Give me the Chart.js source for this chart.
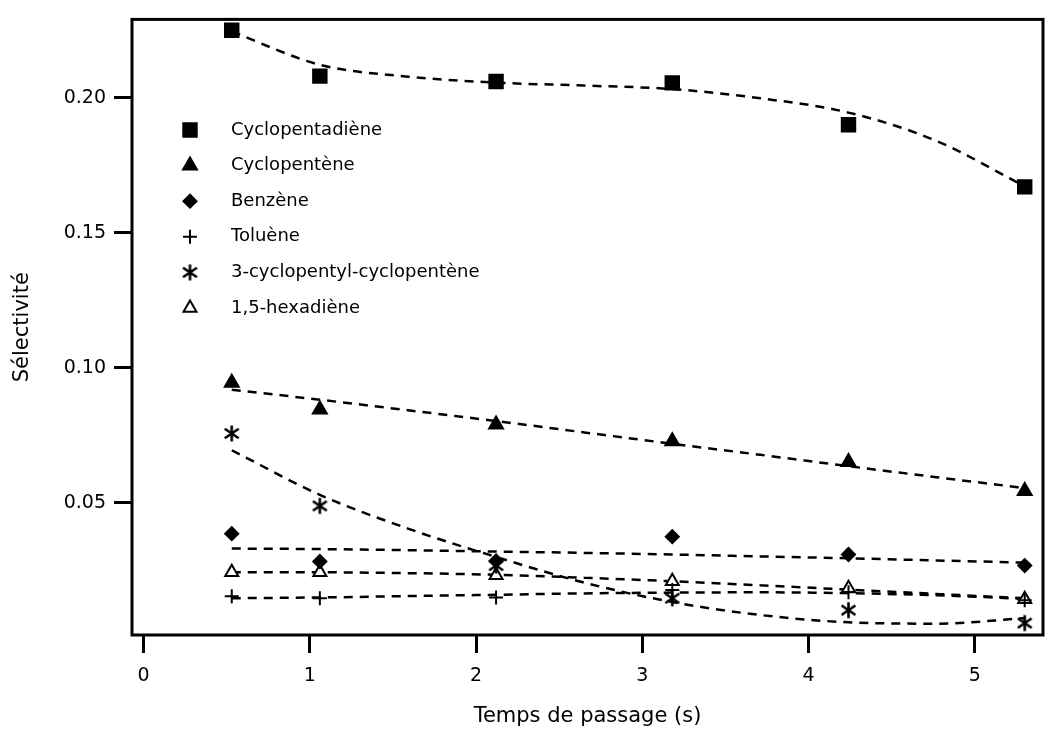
<!DOCTYPE html>
<html lang="fr">
<head>
<meta charset="utf-8">
<title>Sélectivité en fonction du temps de passage</title>
<script src="https://cdn.jsdelivr.net/npm/chart.js@4.4.1/dist/chart.umd.min.js"></script>
<style>
  html, body { margin: 0; padding: 0; background: #fff; }
  #graphe { display: block; }
</style>
</head>
<body>
<canvas id="graphe" width="1058" height="729"></canvas>
<script>
// temps de passage des mesures (s)
const tempsPassage = [0.53, 1.06, 2.12, 3.18, 4.24, 5.30];

// sélectivités mesurées
const cyclopentadiene = [0.225, 0.208, 0.206, 0.2055, 0.190, 0.167];
const cyclopentene = [0.0945, 0.0846, 0.079, 0.0728, 0.0651, 0.0544];
const benzene = [0.0386, 0.0283, 0.0285, 0.0375, 0.0309, 0.0268];
const toluene = [0.0154, 0.0147, 0.0150, 0.0178, 0.0169, 0.0140];
const cyclopentylCyclopentene = [0.0757, 0.0489, 0.0268, 0.0147, 0.0103, 0.0055];
const hexadiene = [0.0243, 0.0243, 0.0232, 0.0210, 0.0184, 0.0143];

// courbes d'ajustement (tirets)
const ajustX = [0.53, 1.06, 1.59, 2.12, 2.65, 3.18, 3.71, 4.24, 4.77, 5.30];
const ajustCyclopentadiene = [0.2245, 0.2122, 0.2078, 0.2056, 0.2045, 0.2032, 0.1998, 0.1945, 0.1840, 0.1672];
const ajustCyclopentene = [0.0919, 0.0882, 0.0843, 0.0803, 0.0761, 0.0719, 0.0678, 0.0636, 0.0595, 0.0555];
const ajustBenzene = [0.0331, 0.0329, 0.0325, 0.0320, 0.0315, 0.0309, 0.0302, 0.0295, 0.0287, 0.0279];
const ajustToluene = [0.0147, 0.0150, 0.0155, 0.0160, 0.0165, 0.0168, 0.0169, 0.0166, 0.0158, 0.0145];
const ajustCyclopentylCyclopentene = [0.0695, 0.0530, 0.0405, 0.0300, 0.0205, 0.0133, 0.0085, 0.0058, 0.0053, 0.0073];
const ajustHexadiene = [0.0243, 0.0243, 0.0240, 0.0234, 0.0223, 0.0210, 0.0195, 0.0179, 0.0163, 0.0147];

const xTicks = [0, 1, 2, 3, 4, 5];
const yTicks = [0.05, 0.10, 0.15, 0.20];

const police = "'DejaVu Sans', sans-serif";

// astérisque à six branches
function asterisque(taille) {
  const c = document.createElement('canvas');
  c.width = taille; c.height = taille;
  const g = c.getContext('2d');
  const m = taille / 2, r = taille / 2 - 1.5;
  g.strokeStyle = '#000';
  g.lineWidth = 2.6;
  g.beginPath();
  g.moveTo(m, m - r); g.lineTo(m, m + r);
  const dx = r * 0.87, dy = r * 0.6;
  g.moveTo(m - dx, m - dy); g.lineTo(m + dx, m + dy);
  g.moveTo(m - dx, m + dy); g.lineTo(m + dx, m - dy);
  g.stroke();
  return c;
}
const etoile = asterisque(19);

function points(ys) {
  return tempsPassage.map((x, i) => ({ x: x, y: ys[i] }));
}
function courbe(ys) {
  return ajustX.map((x, i) => ({ x: x, y: ys[i] }));
}

function serie(label, ys, style, rayon, remplissage) {
  return {
    label: label,
    data: points(ys),
    showLine: false,
    pointStyle: style,
    pointRadius: rayon,
    pointHoverRadius: rayon,
    pointBackgroundColor: remplissage,
    pointBorderColor: '#000',
    pointBorderWidth: 2,
    order: 1
  };
}

function ajustement(ys) {
  return {
    label: '',
    data: courbe(ys),
    showLine: true,
    borderColor: '#000',
    borderWidth: 2.5,
    borderDash: [9, 7],
    pointRadius: 0,
    cubicInterpolationMode: 'monotone',
    fill: false,
    order: 2
  };
}

const series = [
  serie('Cyclopentadiène', cyclopentadiene, 'rect', 9.5, '#000'),
  serie('Cyclopentène', cyclopentene, 'triangle', 8, '#000'),
  serie('Benzène', benzene, 'rectRot', 6.5, '#000'),
  serie('Toluène', toluene, 'cross', 7, '#000'),
  serie('3-cyclopentyl-cyclopentène', cyclopentylCyclopentene, etoile, 8, '#000'),
  serie('1,5-hexadiène', hexadiene, 'triangle', 7.5, '#fff')
];

const courbes = [
  ajustement(ajustCyclopentadiene),
  ajustement(ajustCyclopentene),
  ajustement(ajustBenzene),
  ajustement(ajustToluene),
  ajustement(ajustCyclopentylCyclopentene),
  ajustement(ajustHexadiene)
];

// cadre complet autour de la zone de tracé
const cadre = {
  id: 'cadre',
  afterDraw(chart) {
    const { ctx, chartArea: a } = chart;
    ctx.save();
    ctx.strokeStyle = '#000';
    ctx.lineWidth = 3;
    ctx.strokeRect(a.left, a.top, a.right - a.left, a.bottom - a.top);
    ctx.restore();
  }
};

// légende placée dans la zone de tracé
const legende = {
  id: 'legende',
  afterDraw(chart) {
    const ctx = chart.ctx;
    const x0 = 190, xt = 231, y0 = 130, pas = 35.6;
    ctx.save();
    ctx.font = '18px ' + police;
    ctx.textBaseline = 'middle';
    series.forEach((s, i) => {
      const y = y0 + i * pas;
      ctx.fillStyle = s.pointBackgroundColor;
      ctx.strokeStyle = '#000';
      ctx.lineWidth = 2;
      Chart.helpers.drawPoint(ctx, {
        pointStyle: s.pointStyle,
        radius: s.pointRadius,
        rotation: 0,
        borderWidth: 2
      }, x0, y);
      ctx.fillStyle = '#000';
      ctx.fillText(s.label, xt, y);
    });
    ctx.restore();
  }
};

new Chart(document.getElementById('graphe'), {
  type: 'scatter',
  data: { datasets: [...courbes, ...series] },
  options: {
    responsive: false,
    animation: false,
    events: [],
    layout: { padding: { top: 15, right: 15, left: 0, bottom: 0 } },
    plugins: {
      legend: { display: false },
      tooltip: { enabled: false }
    },
    scales: {
      x: {
        type: 'linear',
        min: -0.07,
        max: 5.41,
        afterBuildTicks: (scale) => { scale.ticks = xTicks.map(v => ({ value: v })); },
        afterFit: (scale) => { scale.height = 94; },
        border: { display: false },
        grid: {
          drawOnChartArea: false,
          drawTicks: true,
          tickLength: 18,
          tickWidth: 3,
          tickColor: '#000'
        },
        ticks: {
          color: '#000',
          padding: 12,
          font: { family: police, size: 19 },
          callback: (v) => String(v)
        },
        title: {
          display: true,
          text: 'Temps de passage (s)',
          color: '#000',
          font: { family: police, size: 21 },
          padding: { top: 0, bottom: 0 }
        }
      },
      y: {
        type: 'linear',
        min: 0.0011,
        max: 0.229,
        afterBuildTicks: (scale) => { scale.ticks = yTicks.map(v => ({ value: v })); },
        afterFit: (scale) => { scale.width = 132; },
        border: { display: false },
        grid: {
          drawOnChartArea: false,
          drawTicks: true,
          tickLength: 18,
          tickWidth: 3,
          tickColor: '#000'
        },
        ticks: {
          color: '#000',
          padding: 8,
          font: { family: police, size: 19 },
          callback: (v) => v.toFixed(2)
        },
        title: {
          display: true,
          text: 'Sélectivité',
          color: '#000',
          font: { family: police, size: 21 },
          padding: { top: 10, bottom: 0 }
        }
      }
    }
  },
  plugins: [cadre, legende]
});
</script>
</body>
</html>
